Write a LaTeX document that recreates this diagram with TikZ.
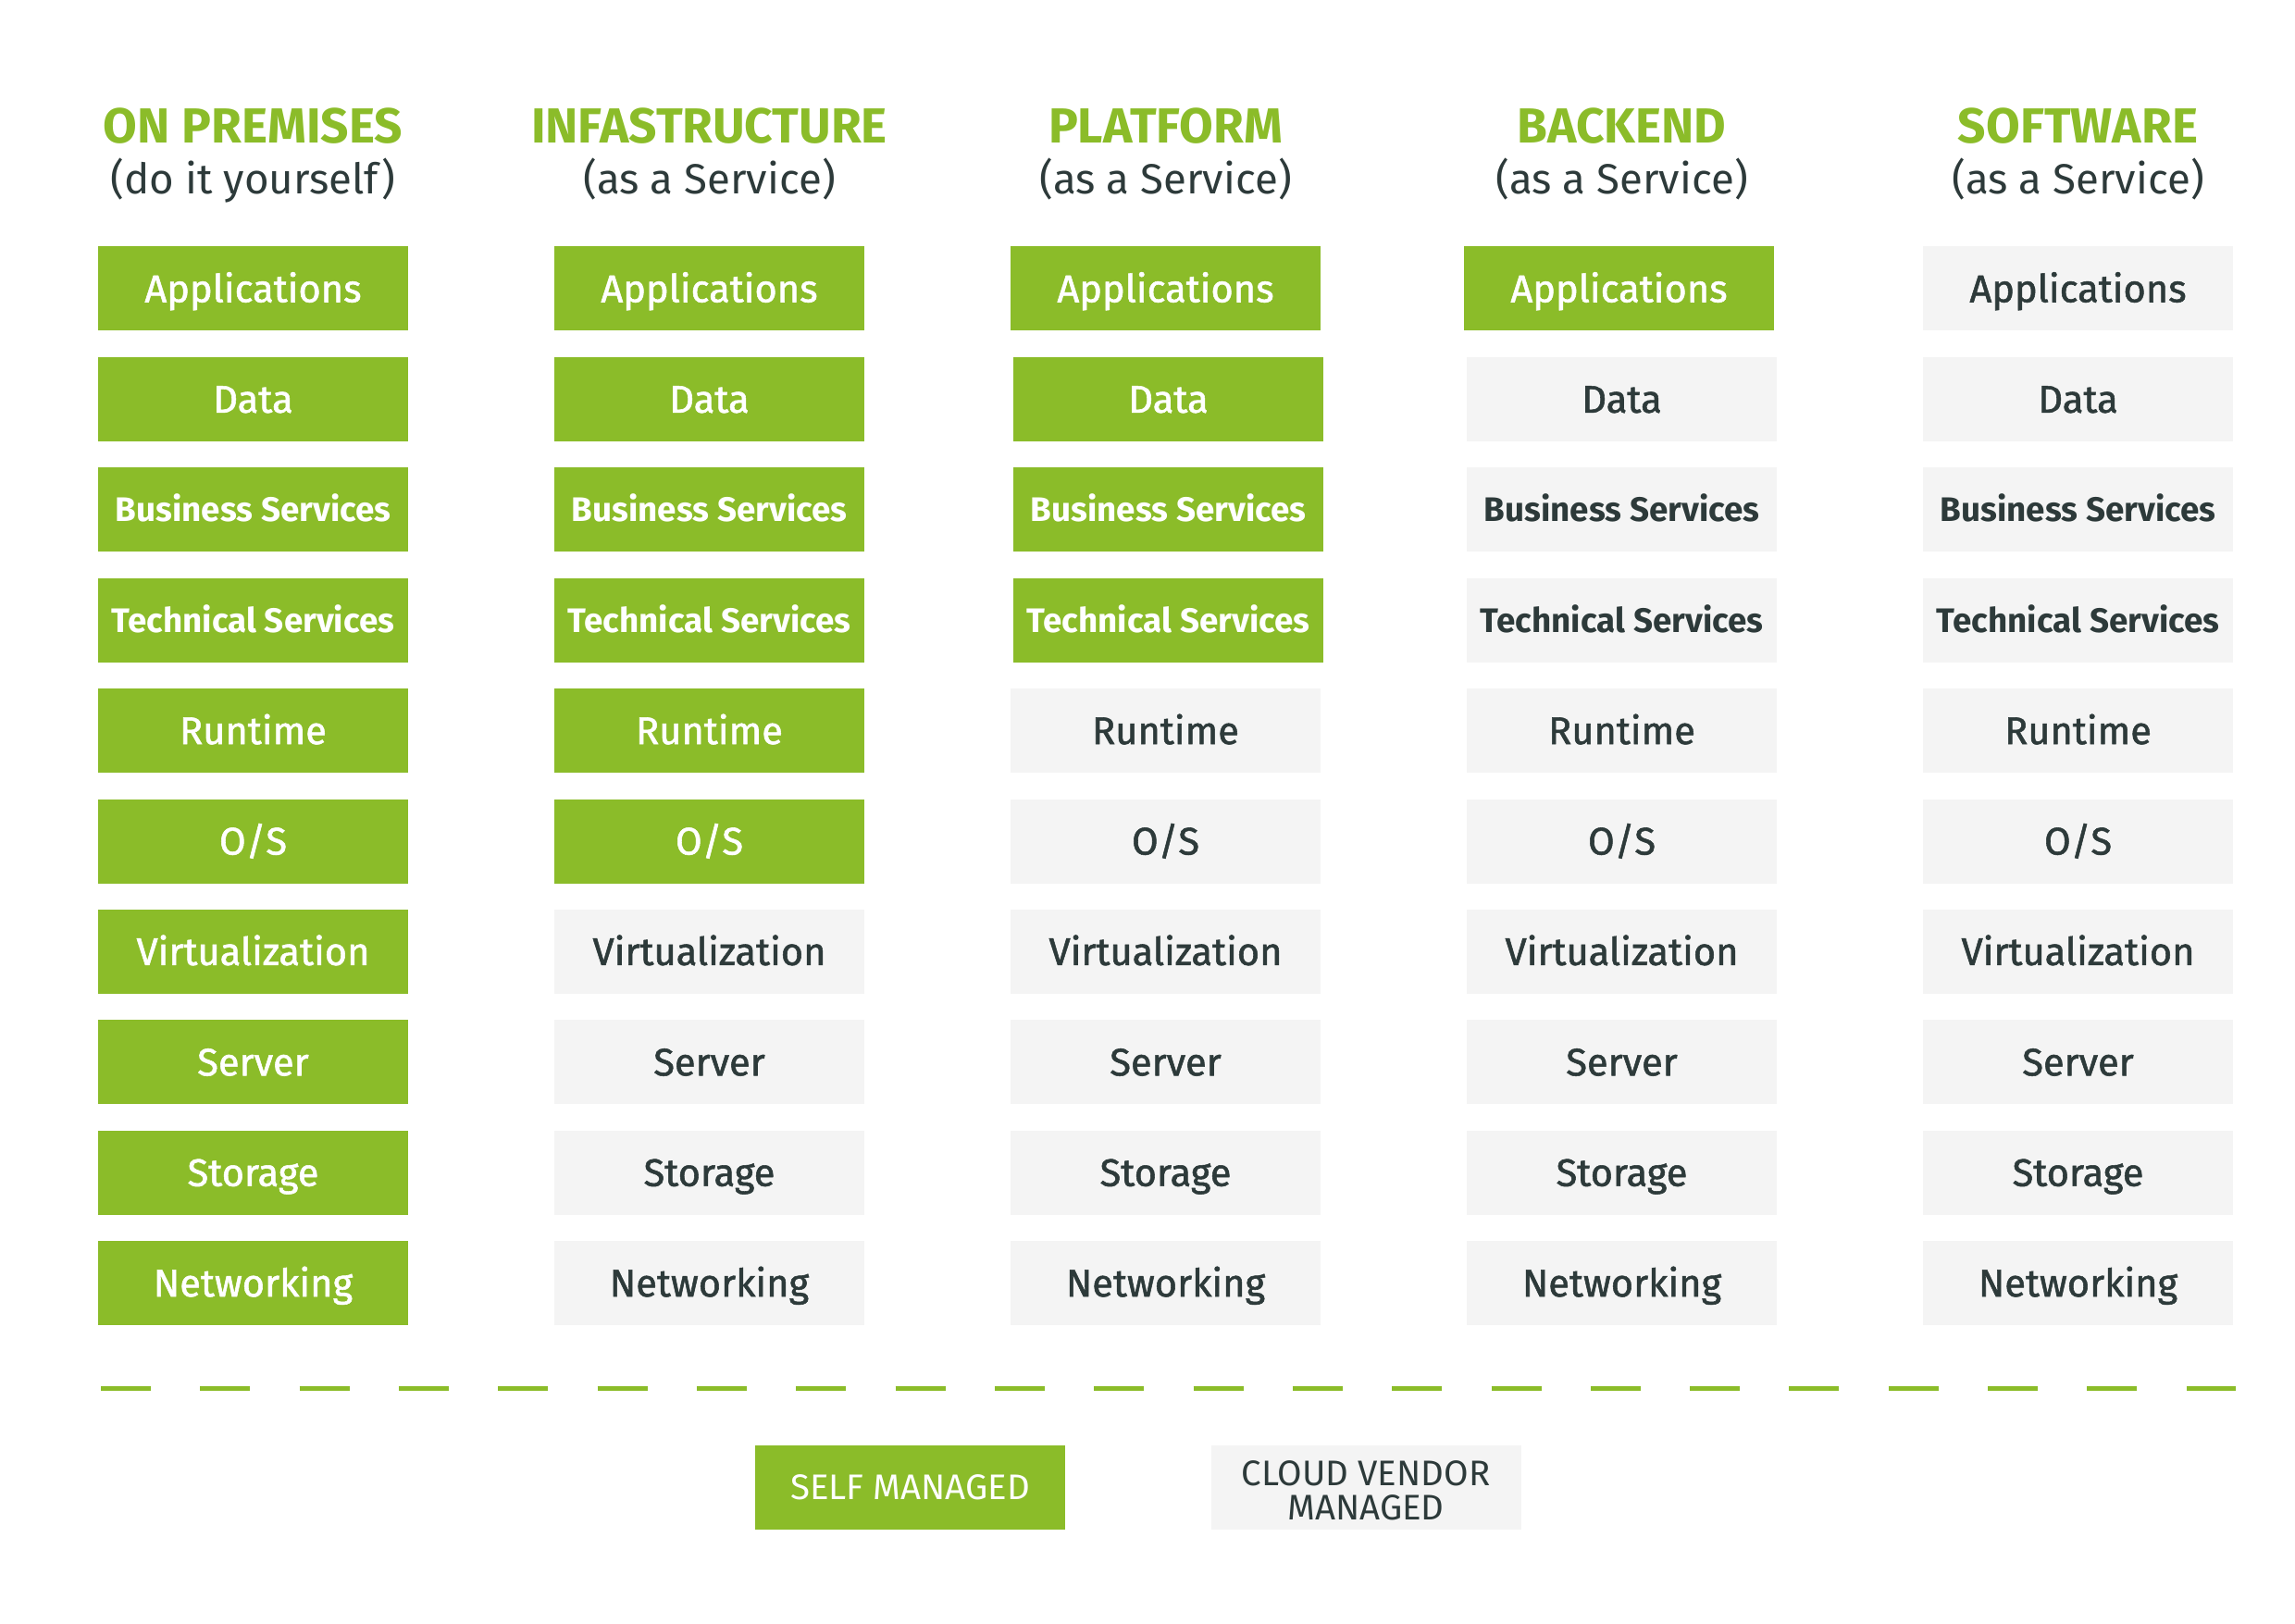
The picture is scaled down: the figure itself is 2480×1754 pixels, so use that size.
\documentclass[tikz,border=0pt]{standalone}
\usepackage{fontspec}
\setmainfont{Fira Sans}
\newfontfamily\medf[FakeBold=1.3]{Fira Sans}
\newfontfamily\boldf{Fira Sans}
\definecolor{grn}{HTML}{8BBC29}
\definecolor{lgray}{HTML}{F4F4F4}
\definecolor{dark}{HTML}{2D3A3A}
\tikzset{
  box/.style={rectangle, inner sep=0pt, minimum width=83.75pt, minimum height=22.75pt, text height=7.25pt, text depth=0pt},
  selfbox/.style={box, fill=grn, text=white},
  vendbox/.style={box, fill=lgray, text=dark},
  lblfont/.style={font=\medf\fontsize{10.4}{12}\selectfont},
  svcfont/.style={font=\boldf\bfseries\fontsize{9.2}{11}\selectfont, text height=6.4pt},
  head/.style={font=\boldf\bfseries\fontsize{13.3}{15}\selectfont, text=grn, anchor=base, inner sep=0pt},
  sub/.style={font=\fontsize{11.4}{14}\selectfont, text=dark, anchor=base, inner sep=0pt},
  legfont/.style={font=\fontsize{9.6}{9.15}\selectfont},
}
\begin{document}
\begin{tikzpicture}[x=0.25pt,y=-0.25pt]
\useasboundingbox (0,0) rectangle (2480,1754);
% headers
\node[head] (h1) at (273.5,155) {ON PREMISES};
\node[sub]  (s1) at (273.5,210) {(do it yourself)};
\node[head] (h2) at (766.5,155) {INFASTRUCTURE};
\node[sub]  (s2) at (766.5,210) {(as a Service)};
\node[head] (h3) at (1259.5,155) {PLATFORM};
\node[sub]  (s3) at (1259.5,210) {(as a Service)};
\node[head] (h4) at (1752.5,155) {BACKEND};
\node[sub]  (s4) at (1752.5,210) {(as a Service)};
\node[head] (h5) at (2245.5,155) {SOFTWARE};
\node[sub]  (s5) at (2245.5,210) {(as a Service)};
% stacks
\foreach \j/\ng in {1/10,2/6,3/4,4/1,5/0} {
  \foreach \lab [count=\i from 0] in {Applications,Data,Business Services,Technical Services,Runtime,O/S,Virtualization,Server,Storage,Networking} {
    \pgfmathsetmacro\cx{273.5+493*(\j-1)}
    \pgfmathsetmacro\cy{312+119.4*\i}
    \def\dx{0}
    \ifnum\j=3 \ifnum\i>0 \ifnum\i<4 \def\dx{3}\fi\fi\fi
    \ifnum\j=4 \ifnum\i=0 \def\dx{-3}\fi\fi
    \ifnum\i<\ng \def\fc{grn}\def\tc{white}\else\def\fc{lgray}\def\tc{dark}\fi
    \ifnum\i=2
      \node[box, fill=\fc, text=\tc, svcfont] (c\j-\i) at (\cx+\dx,\cy) {\lab};
    \else\ifnum\i=3
      \node[box, fill=\fc, text=\tc, svcfont] (c\j-\i) at (\cx+\dx,\cy) {\lab};
    \else
      \node[box, fill=\fc, text=\tc, lblfont] (c\j-\i) at (\cx+\dx,\cy) {\lab};
    \fi\fi
  }
}
% divider
\coordinate (dl) at (109,1500);
\coordinate (dr) at (2416,1500);
\draw[grn, line width=1.25pt, dash pattern=on 13.5pt off 13.33pt] (dl) -- (dr);
% legend
\node[selfbox, legfont, text height=6.6pt] (self) at (983.5,1607) {SELF MANAGED};
\node[rectangle, inner sep=0pt, minimum width=83.75pt, minimum height=22.75pt, fill=lgray, text=dark, legfont, align=center, text height=17.65pt, text depth=0pt] (vend) at (1476,1607) {CLOUD VENDOR\\MANAGED};
\end{tikzpicture}
\end{document}
